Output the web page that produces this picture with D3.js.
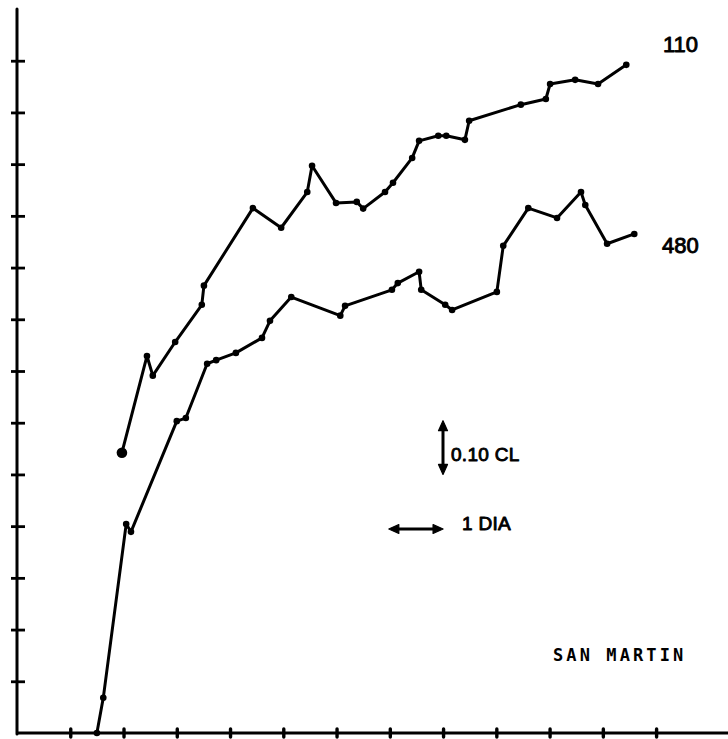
<!DOCTYPE html>
<html>
<head>
<meta charset="utf-8">
<script src="https://cdn.jsdelivr.net/npm/d3@7"></script>
<style>
  html, body { margin: 0; padding: 0; background: #fff; }
  svg { display: block; }
</style>
</head>
<body>
<svg id="chart" width="728" height="739"></svg>
<script>
// Days (x) and concentration in CL (y)
const days110 = [1.97, 2.44, 2.55, 2.97, 3.47, 3.51, 4.43, 4.96, 5.45, 5.54, 5.99, 6.38, 6.50, 6.91, 7.06, 7.42, 7.55, 7.91, 8.06, 8.41, 8.49, 9.46, 9.93, 10.01, 10.48, 10.91, 11.44];
const cl110   = [0.542, 0.729, 0.691, 0.756, 0.828, 0.865, 1.015, 0.977, 1.046, 1.097, 1.025, 1.027, 1.014, 1.046, 1.064, 1.112, 1.145, 1.155, 1.155, 1.147, 1.184, 1.215, 1.226, 1.255, 1.263, 1.255, 1.292];

const days480 = [1.50, 1.62, 2.05, 2.14, 3.00, 3.17, 3.57, 3.74, 4.11, 4.60, 4.75, 5.15, 6.07, 6.16, 7.04, 7.15, 7.55, 7.59, 8.04, 8.17, 9.01, 9.13, 9.60, 10.14, 10.59, 10.67, 11.08, 11.59];
const cl480   = [0.000, 0.068, 0.404, 0.389, 0.603, 0.609, 0.714, 0.721, 0.735, 0.764, 0.797, 0.843, 0.807, 0.826, 0.857, 0.870, 0.892, 0.857, 0.828, 0.818, 0.853, 0.942, 1.015, 0.996, 1.046, 1.021, 0.946, 0.965];

const seriesLabels = ["110", "480"];
const xTicks = d3.range(1, 13);                 // 1..12 days
const yTicks = d3.range(1, 14).map(d => d / 10); // 0.1..1.3 CL
const scaleNote = "0.10 CL";
const dayNote = "1 DIA";
const stationName = "SAN MARTIN";

const svg = d3.select("#chart");
const x = d3.scaleLinear().domain([0, 13.35]).range([17, 728]);
const y = d3.scaleLinear().domain([0, 1.4]).range([733, 9]);

const ink = "#000";
const lw = 3;

// Axes
const yAxis = svg.append("g").attr("transform", `translate(${x(0)},0)`)
  .call(d3.axisLeft(y).tickValues(yTicks).tickSize(7).tickFormat(""));
yAxis.select(".domain").remove();
yAxis.selectAll(".tick line").attr("x1", -6).attr("x2", 8)
  .attr("stroke", ink).attr("stroke-width", 2.8);
svg.append("line").attr("x1", x(0)).attr("x2", x(0)).attr("y1", y(0) + 1).attr("y2", y(1.4))
  .attr("stroke", ink).attr("stroke-width", 3).attr("stroke-linecap", "round");

const xAxis = svg.append("g").attr("transform", `translate(0,${y(0)})`)
  .call(d3.axisBottom(x).tickValues(xTicks).tickSize(4).tickFormat(""));
xAxis.select(".domain").remove();
xAxis.selectAll(".tick line").attr("y1", -4).attr("y2", 4)
  .attr("stroke", ink).attr("stroke-width", 3.4).attr("stroke-linecap", "round");
svg.append("line").attr("x1", x(0) - 1).attr("x2", 728).attr("y1", y(0)).attr("y2", y(0))
  .attr("stroke", ink).attr("stroke-width", 2.8);

// Series
const line = d3.line().x(d => x(d[0])).y(d => y(d[1]));
const s110 = d3.zip(days110, cl110);
const s480 = d3.zip(days480, cl480);

[s110, s480].forEach(s => {
  svg.append("path").datum(s).attr("d", line)
    .attr("fill", "none").attr("stroke", ink).attr("stroke-width", lw)
    .attr("stroke-linejoin", "round").attr("stroke-linecap", "round");
  svg.selectAll(null).data(s).enter().append("circle")
    .attr("cx", d => x(d[0])).attr("cy", d => y(d[1])).attr("r", 3.3)
    .attr("fill", ink);
});
// larger starting dot of the 110 series
svg.append("circle").attr("cx", x(days110[0])).attr("cy", y(cl110[0])).attr("r", 5.3).attr("fill", ink);

// Labels
const labelStyle = sel => sel
  .attr("font-family", "Liberation Sans, Arial, sans-serif").attr("font-size", 22)
  .attr("fill", ink).attr("stroke", ink).attr("stroke-width", 0.9).attr("stroke-linejoin", "round");
labelStyle(svg.append("text").attr("x", 663).attr("y", 52).text(seriesLabels[0]));
labelStyle(svg.append("text").attr("x", 662).attr("y", 253).text(seriesLabels[1]));

// scale notes
const arrowHead = (x0, y0, dx, dy) => {
  const len = 10, w = 4.5;
  const px = -dy, py = dx;
  return `M${x0},${y0} L${x0 - dx * len + px * w},${y0 - dy * len + py * w} L${x0 - dx * len - px * w},${y0 - dy * len - py * w} Z`;
};
// vertical arrow: one y tick (0.10 CL)
const vx = 443, vy1 = y(0.6) - 2, vy2 = y(0.5);
svg.append("line").attr("x1", vx).attr("x2", vx).attr("y1", vy1 + 4).attr("y2", vy2 - 4)
  .attr("stroke", ink).attr("stroke-width", 3);
svg.append("path").attr("d", arrowHead(vx, vy1, 0, -1)).attr("fill", ink)
  .attr("stroke", ink).attr("stroke-width", 1.2).attr("stroke-linejoin", "round");
svg.append("path").attr("d", arrowHead(vx, vy2, 0, 1)).attr("fill", ink)
  .attr("stroke", ink).attr("stroke-width", 1.2).attr("stroke-linejoin", "round");
const noteStyle = sel => sel
  .attr("font-family", "Liberation Sans, Arial, sans-serif").attr("font-size", 19)
  .attr("letter-spacing", 0.3).attr("fill", ink)
  .attr("stroke", ink).attr("stroke-width", 0.9).attr("stroke-linejoin", "round");
noteStyle(svg.append("text").attr("x", 451).attr("y", 461).text(scaleNote));

// horizontal arrow: one x tick (1 day)
const hy = 529, hx1 = x(7) - 1, hx2 = x(8);
svg.append("line").attr("x1", hx1 + 4).attr("x2", hx2 - 4).attr("y1", hy).attr("y2", hy)
  .attr("stroke", ink).attr("stroke-width", 3);
svg.append("path").attr("d", arrowHead(hx1, hy, -1, 0)).attr("fill", ink)
  .attr("stroke", ink).attr("stroke-width", 1.2).attr("stroke-linejoin", "round");
svg.append("path").attr("d", arrowHead(hx2, hy, 1, 0)).attr("fill", ink)
  .attr("stroke", ink).attr("stroke-width", 1.2).attr("stroke-linejoin", "round");
noteStyle(svg.append("text").attr("x", 462).attr("y", 530).text(dayNote));

svg.append("text").attr("x", 553).attr("y", 661).text(stationName)
  .attr("font-family", "DejaVu Sans Mono, monospace").attr("font-weight", "bold")
  .attr("font-size", 17).attr("letter-spacing", 3.1).attr("fill", ink);
</script>
</body>
</html>
